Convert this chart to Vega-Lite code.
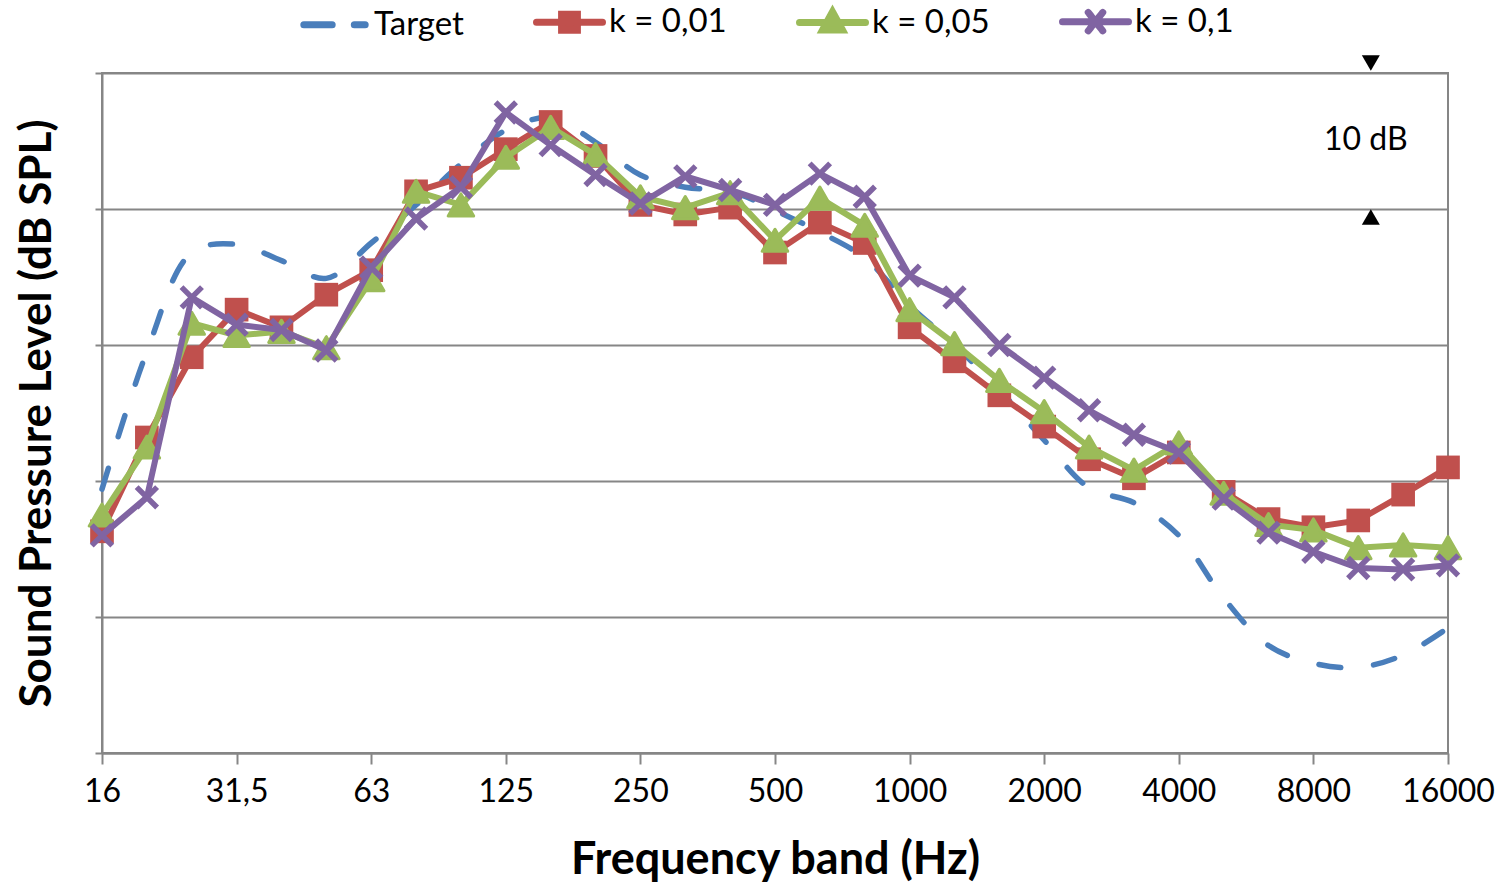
{
  "$schema": "https://vega.github.io/schema/vega-lite/v6.json",
  "width": 1346,
  "height": 680,
  "autosize": {"type": "none"},
  "padding": {"left": 102, "top": 73, "right": 57, "bottom": 133},
  "background": "white",
  "config": {"view": {"stroke": "#868686", "strokeWidth": 2}, "font": "Lato"},
  "data": {"values": [
    {"band":0,"series":"Target","level":19.4},{"band":1,"series":"Target","level":29.5},{"band":2,"series":"Target","level":36.8},{"band":3,"series":"Target","level":37.4},{"band":4,"series":"Target","level":36.2},{"band":5,"series":"Target","level":34.9},{"band":6,"series":"Target","level":37.5},{"band":7,"series":"Target","level":40.3},{"band":8,"series":"Target","level":43.3},{"band":9,"series":"Target","level":45.8},{"band":10,"series":"Target","level":46.7},{"band":11,"series":"Target","level":44.9},{"band":12,"series":"Target","level":42.5},{"band":13,"series":"Target","level":41.6},{"band":14,"series":"Target","level":41.3},{"band":15,"series":"Target","level":39.9},{"band":16,"series":"Target","level":38.3},{"band":17,"series":"Target","level":36.4},{"band":18,"series":"Target","level":32.9},{"band":19,"series":"Target","level":30.0},{"band":20,"series":"Target","level":26.7},{"band":21,"series":"Target","level":23.0},{"band":22,"series":"Target","level":19.5},{"band":23,"series":"Target","level":18.4},{"band":24,"series":"Target","level":16.0},{"band":25,"series":"Target","level":11.4},{"band":26,"series":"Target","level":7.9},{"band":27,"series":"Target","level":6.6},{"band":28,"series":"Target","level":6.3},{"band":29,"series":"Target","level":7.2},{"band":30,"series":"Target","level":9.2},
    {"band":0,"series":"k = 0,01","level":16.3},{"band":1,"series":"k = 0,01","level":23.2},{"band":2,"series":"k = 0,01","level":29.1},{"band":3,"series":"k = 0,01","level":32.6},{"band":4,"series":"k = 0,01","level":31.3},{"band":5,"series":"k = 0,01","level":33.7},{"band":6,"series":"k = 0,01","level":35.5},{"band":7,"series":"k = 0,01","level":41.3},{"band":8,"series":"k = 0,01","level":42.3},{"band":9,"series":"k = 0,01","level":44.4},{"band":10,"series":"k = 0,01","level":46.4},{"band":11,"series":"k = 0,01","level":43.9},{"band":12,"series":"k = 0,01","level":40.3},{"band":13,"series":"k = 0,01","level":39.6},{"band":14,"series":"k = 0,01","level":40.1},{"band":15,"series":"k = 0,01","level":36.8},{"band":16,"series":"k = 0,01","level":39.0},{"band":17,"series":"k = 0,01","level":37.5},{"band":18,"series":"k = 0,01","level":31.3},{"band":19,"series":"k = 0,01","level":28.8},{"band":20,"series":"k = 0,01","level":26.3},{"band":21,"series":"k = 0,01","level":24.0},{"band":22,"series":"k = 0,01","level":21.6},{"band":23,"series":"k = 0,01","level":20.2},{"band":24,"series":"k = 0,01","level":22.1},{"band":25,"series":"k = 0,01","level":19.2},{"band":26,"series":"k = 0,01","level":17.2},{"band":27,"series":"k = 0,01","level":16.6},{"band":28,"series":"k = 0,01","level":17.1},{"band":29,"series":"k = 0,01","level":19.0},{"band":30,"series":"k = 0,01","level":21.0},
    {"band":0,"series":"k = 0,05","level":17.5},{"band":1,"series":"k = 0,05","level":22.5},{"band":2,"series":"k = 0,05","level":31.6},{"band":3,"series":"k = 0,05","level":30.7},{"band":4,"series":"k = 0,05","level":31.0},{"band":5,"series":"k = 0,05","level":29.8},{"band":6,"series":"k = 0,05","level":34.8},{"band":7,"series":"k = 0,05","level":41.3},{"band":8,"series":"k = 0,05","level":40.3},{"band":9,"series":"k = 0,05","level":43.8},{"band":10,"series":"k = 0,05","level":46.0},{"band":11,"series":"k = 0,05","level":44.0},{"band":12,"series":"k = 0,05","level":40.9},{"band":13,"series":"k = 0,05","level":40.1},{"band":14,"series":"k = 0,05","level":41.2},{"band":15,"series":"k = 0,05","level":37.7},{"band":16,"series":"k = 0,05","level":40.8},{"band":17,"series":"k = 0,05","level":38.8},{"band":18,"series":"k = 0,05","level":32.6},{"band":19,"series":"k = 0,05","level":30.1},{"band":20,"series":"k = 0,05","level":27.4},{"band":21,"series":"k = 0,05","level":25.1},{"band":22,"series":"k = 0,05","level":22.5},{"band":23,"series":"k = 0,05","level":20.8},{"band":24,"series":"k = 0,05","level":22.8},{"band":25,"series":"k = 0,05","level":19.1},{"band":26,"series":"k = 0,05","level":16.8},{"band":27,"series":"k = 0,05","level":16.4},{"band":28,"series":"k = 0,05","level":15.1},{"band":29,"series":"k = 0,05","level":15.3},{"band":30,"series":"k = 0,05","level":15.1},
    {"band":0,"series":"k = 0,1","level":16.0},{"band":1,"series":"k = 0,1","level":18.8},{"band":2,"series":"k = 0,1","level":33.5},{"band":3,"series":"k = 0,1","level":31.5},{"band":4,"series":"k = 0,1","level":31.1},{"band":5,"series":"k = 0,1","level":29.6},{"band":6,"series":"k = 0,1","level":35.7},{"band":7,"series":"k = 0,1","level":39.3},{"band":8,"series":"k = 0,1","level":41.6},{"band":9,"series":"k = 0,1","level":47.1},{"band":10,"series":"k = 0,1","level":44.7},{"band":11,"series":"k = 0,1","level":42.5},{"band":12,"series":"k = 0,1","level":40.4},{"band":13,"series":"k = 0,1","level":42.4},{"band":14,"series":"k = 0,1","level":41.4},{"band":15,"series":"k = 0,1","level":40.3},{"band":16,"series":"k = 0,1","level":42.6},{"band":17,"series":"k = 0,1","level":40.9},{"band":18,"series":"k = 0,1","level":35.1},{"band":19,"series":"k = 0,1","level":33.5},{"band":20,"series":"k = 0,1","level":30.0},{"band":21,"series":"k = 0,1","level":27.6},{"band":22,"series":"k = 0,1","level":25.2},{"band":23,"series":"k = 0,1","level":23.4},{"band":24,"series":"k = 0,1","level":22.1},{"band":25,"series":"k = 0,1","level":18.7},{"band":26,"series":"k = 0,1","level":16.2},{"band":27,"series":"k = 0,1","level":14.8},{"band":28,"series":"k = 0,1","level":13.6},{"band":29,"series":"k = 0,1","level":13.5},{"band":30,"series":"k = 0,1","level":13.8}
  ]},
  "encoding": {
    "x": {
      "field": "band", "type": "quantitative",
      "scale": {"domain": [0, 30], "nice": false, "zero": false},
      "axis": {
        "values": [0, 3, 6, 9, 12, 15, 18, 21, 24, 27, 30],
        "labelExpr": "['16','31,5','63','125','250','500','1000','2000','4000','8000','16000'][round(datum.value/3)]",
        "grid": false,
        "domainColor": "#868686", "domainWidth": 2,
        "tickColor": "#868686", "tickWidth": 2, "tickSize": 11,
        "labelFont": "Lato", "labelFontSize": 32, "labelColor": "black", "labelPadding": 12,
        "labelFlush": false, "labelOverlap": false,
        "title": "Frequency band (Hz)", "titleFont": "Lato", "titleFontSize": 45, "titleFontWeight": "bold",
        "titleColor": "black", "titlePadding": 30
      }
    },
    "y": {
      "field": "level", "type": "quantitative",
      "scale": {"domain": [0, 50], "nice": false},
      "axis": {
        "values": [0, 10, 20, 30, 40, 50],
        "labels": false,
        "grid": true, "gridColor": "#868686", "gridWidth": 2,
        "domainColor": "#868686", "domainWidth": 2,
        "tickColor": "#868686", "tickWidth": 2, "tickSize": 7,
        "title": "Sound Pressure Level (dB SPL)", "titleFont": "Lato", "titleFontSize": 44, "titleFontWeight": "bold",
        "titleColor": "black", "titlePadding": 35
      }
    }
  },
  "layer": [
    {
      "transform": [{"filter": "datum.series === 'Target'"}],
      "mark": {"type": "line", "strokeWidth": 5.5, "strokeDash": [22, 33], "strokeCap": "round", "interpolate": "catmull-rom"},
      "encoding": {
        "color": {
          "field": "series", "type": "nominal",
          "scale": {"domain": ["Target", "k = 0,01", "k = 0,05", "k = 0,1"], "range": ["#4A7EBB", "#C0504D", "#9BBB59", "#8064A2"]},
          "legend": {
            "title": null, "orient": "none", "legendX": 196, "legendY": -88, "direction": "horizontal",
            "padding": 0, "symbolSize": 4356, "symbolStrokeWidth": 7,
            "labelFont": "Lato", "labelFontSize": 33, "labelColor": "black", "labelOffset": 3, "labelLimit": 400,
            "columnPadding": 58,
            "encode": {
              "symbols": {
                "update": {
                  "shape": {"signal": "datum.value === 'Target' ? 'M-0.93,0H-0.07M0.6,0H0.93' : datum.value === 'k = 0,01' ? 'M-1,0H1M-0.24,-0.24H0.24V0.24H-0.24Z' : datum.value === 'k = 0,05' ? 'M-1,0H1M0,-0.33L0.3,0.22H-0.3Z' : 'M-1,0H1M-0.22,-0.28L0.22,0.28M-0.22,0.28L0.22,-0.28'"},
                  "fill": {"signal": "scale('color', datum.value)"},
                  "strokeDash": {"value": [1, 0]},
                  "strokeCap": {"value": "round"},
                  "strokeWidth": {"value": 7},
                  "opacity": {"value": 1}
                }
              }
            }
          }
        }
      }
    },
    {
      "transform": [{"filter": "datum.series === 'k = 0,01'"}],
      "mark": {"type": "line", "color": "#C0504D", "strokeWidth": 6}
    },
    {
      "transform": [{"filter": "datum.series === 'k = 0,01'"}],
      "mark": {"type": "point", "shape": "square", "filled": true, "size": 560, "color": "#C0504D", "opacity": 1}
    },
    {
      "transform": [{"filter": "datum.series === 'k = 0,05'"}],
      "mark": {"type": "line", "color": "#9BBB59", "strokeWidth": 6}
    },
    {
      "transform": [{"filter": "datum.series === 'k = 0,05'"}],
      "mark": {"type": "point", "shape": "triangle-up", "filled": true, "size": 650, "color": "#9BBB59", "stroke": "#9BBB59", "strokeWidth": 3, "strokeJoin": "round", "opacity": 1}
    },
    {
      "transform": [{"filter": "datum.series === 'k = 0,1'"}],
      "mark": {"type": "line", "color": "#8064A2", "strokeWidth": 6}
    },
    {
      "transform": [{"filter": "datum.series === 'k = 0,1'"}],
      "mark": {"type": "point", "shape": "M-1,-1L1,1M-1,1L1,-1", "filled": false, "size": 420, "color": "#8064A2", "strokeWidth": 5.5, "opacity": 1}
    },
    {
      "data": {"values": [{"band": 28.17, "level": 45.07, "label": "10 dB"}]},
      "mark": {"type": "text", "font": "Lato", "fontSize": 32, "color": "black", "align": "center", "baseline": "middle"},
      "encoding": {"text": {"field": "label"}}
    },
    {
      "data": {"values": [{"band": 28.28, "level": 50.74}]},
      "mark": {"type": "point", "shape": "triangle-down", "filled": true, "size": 324, "color": "black", "opacity": 1}
    },
    {
      "data": {"values": [{"band": 28.28, "level": 39.41}]},
      "mark": {"type": "point", "shape": "triangle-up", "filled": true, "size": 324, "color": "black", "opacity": 1}
    }
  ]
}
